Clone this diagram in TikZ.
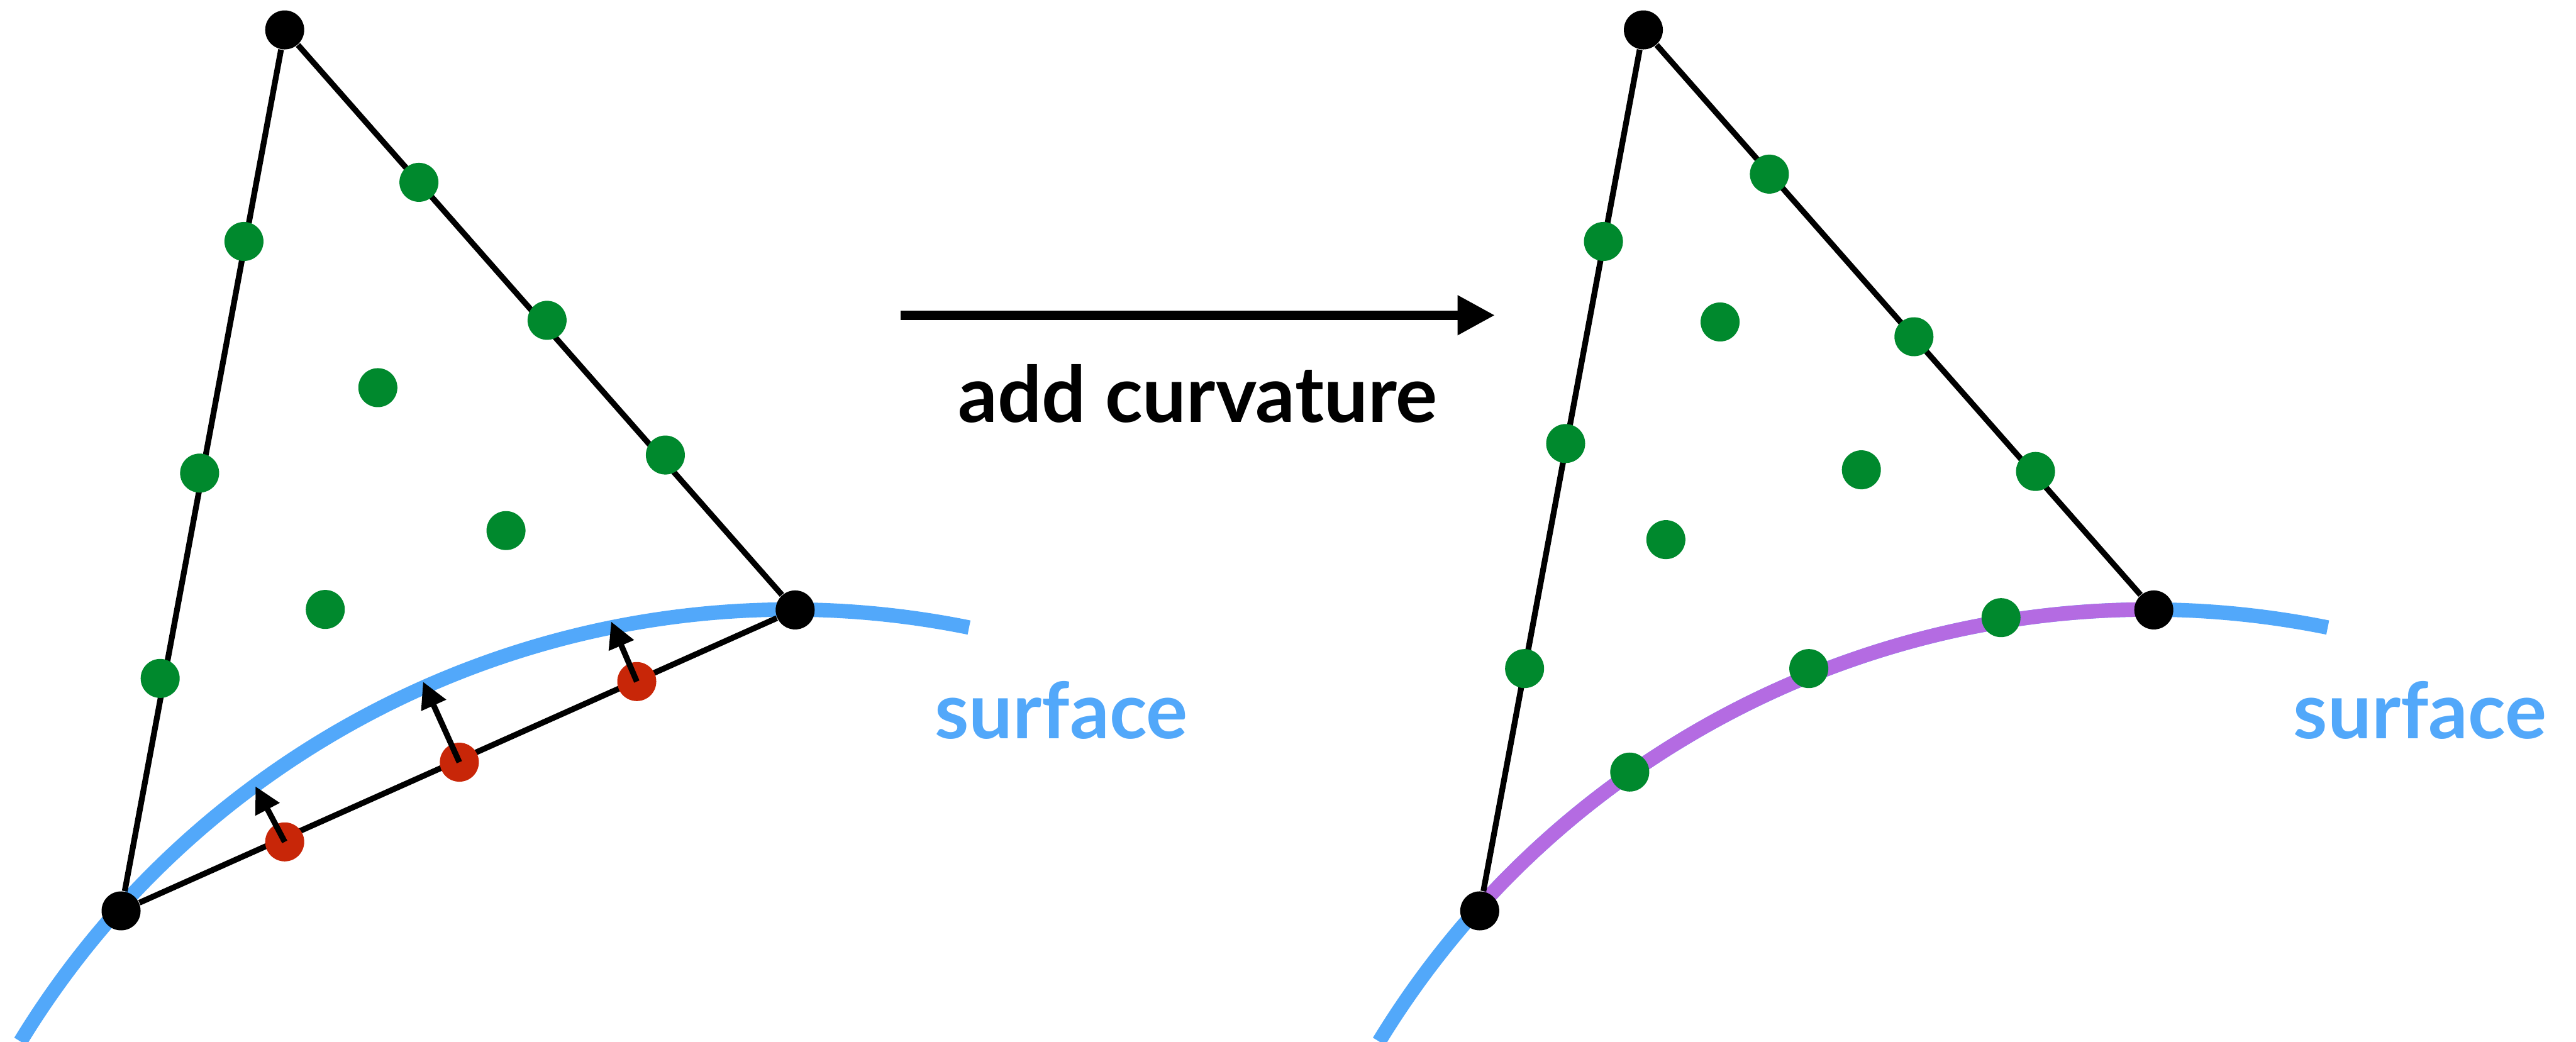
\documentclass[tikz,border=0pt]{standalone}
\usepackage{fontspec}
\setmainfont{Lato}
\usetikzlibrary{arrows.meta,backgrounds,calc}
\definecolor{dotgreen}{RGB}{0,137,45}
\definecolor{dotred}{RGB}{200,38,8}
\definecolor{surfblue}{RGB}{82,168,250}
\definecolor{curvpurple}{RGB}{180,107,226}
\begin{document}
\begin{tikzpicture}[x=0.02cm,y=0.02cm,
  vtx/.style={circle,fill=black,inner sep=0pt,minimum size=0.475cm},
  gdot/.style={vtx,fill=dotgreen},
  rdot/.style={vtx,fill=dotred},
  edge/.style={line width=2pt},
  surf/.style={line width=5pt,draw=surfblue},
  curv/.style={line width=5pt,draw=curvpurple},
  push/.style={line width=2pt,-{Triangle[length=9pt,width=9pt]}},
  bigarrow/.style={line width=3.2pt,-{Triangle[length=13pt,width=13pt]}},
  lbl/.style={font=\fontsize{27}{32}\selectfont\bfseries,inner sep=0pt,anchor=base},
  surflbl/.style={lbl,text=surfblue}]
\useasboundingbox (0,0) rectangle (1568,-634);

% ---------- left panel ----------
\coordinate (C1) at (481,-920);
\node[vtx] (T1) at (173.3,-18.2) {};
\node[vtx] (B1) at (73.7,-554.5) {};
\node[vtx] (R1) at (484,-371.3) {};
% green dots on edges
\node[gdot] (l1a) at (148.5,-147) {};
\node[gdot] (l1b) at (121.5,-288) {};
\node[gdot] (l1c) at (97.5,-413) {};
\node[gdot] (e1a) at (255,-111) {};
\node[gdot] (e1b) at (333,-195) {};
\node[gdot] (e1c) at (405,-277) {};
% interior
\node[gdot] (i1a) at (230,-236) {};
\node[gdot] (i1b) at (308,-323) {};
\node[gdot] (i1c) at (198,-371) {};
% red dots on the bottom edge
\node[rdot] (r1a) at (173.3,-512.5) {};
\node[rdot] (r1b) at (279.6,-464) {};
\node[rdot] (r1c) at (387.6,-414.9) {};
\coordinate (p1a) at (155.5,-478.7);
\coordinate (p1b) at (257.5,-415);
\coordinate (p1c) at (372,-378.4);
\draw[push] (r1a.center) -- (p1a);
\draw[push] (r1b.center) -- (p1b);
\draw[push] (r1c.center) -- (p1c);
\node[surflbl] (s1) at (646,-449.5) {surface};

% ---------- right panel ----------
\coordinate (C2) at (1308,-920);
\node[vtx] (T2) at (1000.3,-18.2) {};
\node[vtx] (B2) at (900.7,-554.5) {};
\node[vtx] (R2) at (1311,-371.3) {};
\node[gdot] (l2a) at (976,-147) {};
\node[gdot] (l2b) at (953,-270) {};
\node[gdot] (l2c) at (928,-407) {};
\node[gdot] (e2a) at (1077,-106) {};
\node[gdot] (e2b) at (1165,-205) {};
\node[gdot] (e2c) at (1239,-287) {};
\node[gdot] (i2a) at (1047,-196) {};
\node[gdot] (i2b) at (1133,-286) {};
\node[gdot] (i2c) at (1014,-328.5) {};
\node[gdot] (c2a) at (992,-470) {};
\node[gdot] (c2b) at (1101,-407) {};
\node[gdot] (c2c) at (1218,-376) {};
\node[surflbl] (s2) at (1473,-449.5) {surface};

% ---------- middle ----------
\coordinate (m1) at (548,-191.9);
\coordinate (m2) at (910,-191.9);
\draw[bigarrow] (m1) -- (m2);
\node[lbl] (addc) at (729,-257) {add curvature};

% ---------- lines behind the dots ----------
\begin{scope}[on background layer]
  \draw[surf] ([shift={(148.6:549)}]C1) arc[start angle=148.6, end angle=78.55, radius=10.98cm];
  \draw[surf] ([shift={(148.6:549)}]C2) arc[start angle=148.6, end angle=78.55, radius=10.98cm];
  \draw[curv] ([shift={(138.1:549)}]C2) arc[start angle=138.1, end angle=89.7, radius=10.98cm];
  \draw[edge] (T1) -- (B1) -- (R1) -- (T1);
  \draw[edge] (T2) -- (B2);
  \draw[edge] (T2) -- (R2);
\end{scope}
\end{tikzpicture}
\end{document}
